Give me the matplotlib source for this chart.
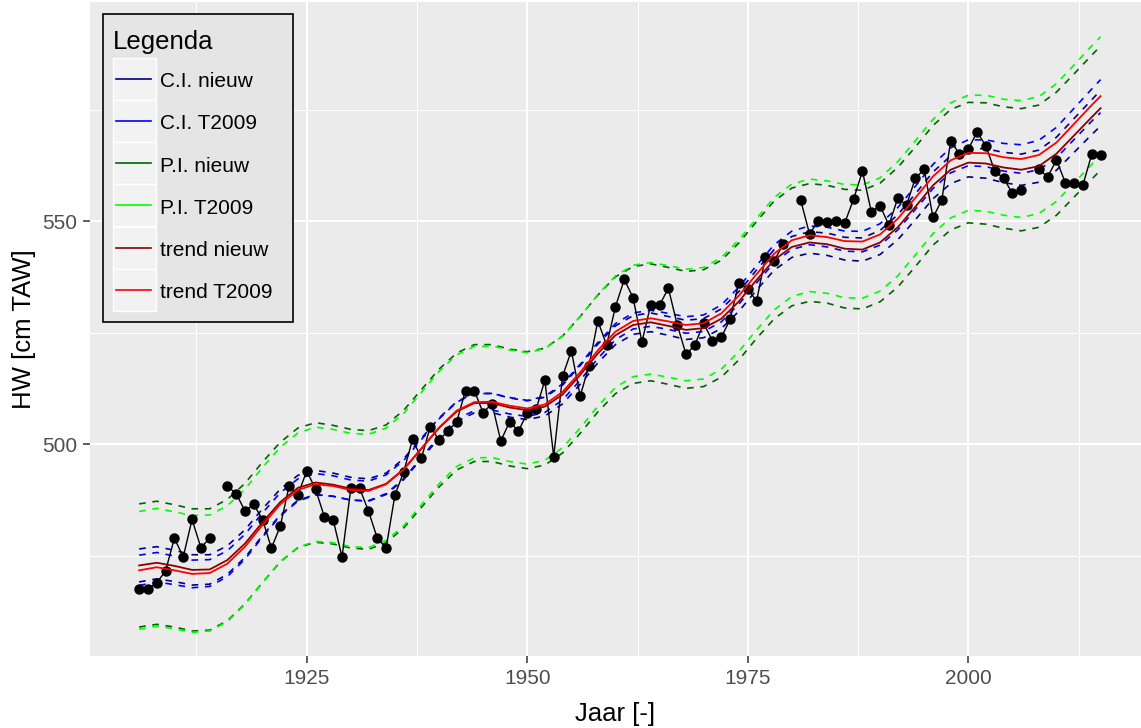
import numpy as np
import matplotlib.pyplot as plt
from matplotlib.patches import Rectangle
from matplotlib.lines import Line2D

plt.rcParams['font.family'] = ['Liberation Sans', 'DejaVu Sans']

# yearly mean high water [cm TAW], NaN where no value
obs_years = list(range(1906, 2016))
obs_hw = [
    467.6, 467.6, 468.9, 471.6, 478.9, 474.7, 483.1, 476.8, 478.9, np.nan,   # 1906-1915
    490.6, 488.9, 485.0, 486.5, 483.0, 476.7, 481.6, 490.6, 488.6, 494.0,    # 1916-1925
    489.9, 483.7, 483.0, 474.7, 490.1, 490.1, 485.0, 478.9, 476.7, 488.6,    # 1926-1935
    493.8, 501.1, 496.8, 503.9, 500.9, 502.9, 505.0, 512.0, 512.0, 507.0,    # 1936-1945
    509.1, 500.7, 505.0, 502.9, 507.0, 507.8, 514.3, 497.2, 515.2, 520.9,    # 1946-1955
    510.8, 517.5, 527.6, 522.2, 530.8, 536.9, 532.8, 522.9, 531.2, 531.2,    # 1956-1965
    534.9, 526.8, 520.1, 522.2, 527.1, 523.1, 523.9, 528.0, 536.2, 534.7,    # 1966-1975
    532.1, 541.9, 541.1, 544.8, np.nan, 554.7, 547.1, 550.1, 549.8, 550.1,   # 1976-1985
    549.6, 554.9, 561.2, 552.1, 553.4, 549.1, 555.1, 553.6, 559.6, 561.6,    # 1986-1995
    550.8, 554.7, 568.0, 565.0, 566.1, 570.0, 566.8, 561.2, 559.6, 556.2,    # 1996-2005
    557.0, np.nan, 561.6, 559.9, 563.7, 558.6, 558.6, 558.1, 565.0, 564.8,   # 2006-2015
]

# fitted trends and interval half-widths, read every second year
curve_years = list(range(1906, 2015, 2)) + [2015]
trend_t2009 = [
    471.7, 472.4, 471.7, 470.9, 471.1, 473.2, 477.0, 481.9, 486.5, 489.7,
    491.0, 490.6, 489.7, 489.5, 491.0, 494.3, 499.0, 503.7, 507.5, 509.4,
    509.5, 508.6, 508.0, 508.9, 511.7, 516.1, 521.0, 525.2, 527.6, 528.2,
    527.5, 526.7, 527.1, 529.3, 533.3, 538.1, 542.7, 545.7, 546.8, 546.4,
    545.5, 545.4, 547.0, 550.5, 555.2, 560.0, 563.6, 565.3, 565.2, 564.3,
    563.9, 564.8, 567.6, 571.8, 576.0, 578.0,
]
trend_nieuw = [
    472.8, 473.4, 472.7, 471.8, 471.9, 474.0, 477.7, 482.5, 487.0, 490.2,
    491.4, 490.9, 490.0, 489.7, 491.1, 494.4, 499.0, 503.6, 507.3, 509.2,
    509.2, 508.2, 507.6, 508.4, 511.1, 515.5, 520.3, 524.4, 526.7, 527.3,
    526.5, 525.6, 526.0, 528.1, 532.0, 536.8, 541.3, 544.2, 545.2, 544.8,
    543.8, 543.6, 545.2, 548.6, 553.2, 558.0, 561.5, 563.1, 562.9, 562.0,
    561.5, 562.3, 565.1, 569.2, 573.3, 575.3,
]
ci_t2009_hw = [
    3.4, 3.3, 3.2, 3.1, 3.0, 2.9, 2.8, 2.7, 2.6, 2.5,
    2.4, 2.3, 2.25, 2.2, 2.1, 2.05, 2.0, 1.95, 1.9, 1.9,
    1.85, 1.85, 1.8, 1.8, 1.8, 1.8, 1.8, 1.8, 1.8, 1.8,
    1.8, 1.85, 1.85, 1.9, 1.9, 1.95, 2.0, 2.05, 2.1, 2.2,
    2.25, 2.3, 2.4, 2.5, 2.6, 2.7, 2.8, 2.9, 3.0, 3.1,
    3.2, 3.3, 3.4, 3.5, 3.6, 3.7,
]
ci_nieuw_hw = [
    3.7, 3.6, 3.5, 3.4, 3.3, 3.2, 3.1, 3.0, 2.9, 2.8,
    2.7, 2.6, 2.55, 2.5, 2.4, 2.35, 2.3, 2.25, 2.2, 2.2,
    2.15, 2.15, 2.1, 2.1, 2.1, 2.1, 2.1, 2.1, 2.1, 2.1,
    2.1, 2.15, 2.15, 2.2, 2.2, 2.25, 2.3, 2.35, 2.4, 2.5,
    2.55, 2.6, 2.7, 2.8, 2.9, 3.0, 3.1, 3.2, 3.3, 3.4,
    3.5, 3.6, 3.7, 3.8, 3.9, 4.0,
]
pi_t2009_hw = [
    13.2, 13.2, 13.1, 13.1, 13.0, 13.0, 12.9, 12.9, 12.8, 12.8,
    12.8, 12.7, 12.7, 12.7, 12.6, 12.6, 12.6, 12.6, 12.5, 12.5,
    12.5, 12.5, 12.5, 12.5, 12.5, 12.5, 12.5, 12.5, 12.5, 12.5,
    12.5, 12.5, 12.5, 12.5, 12.5, 12.5, 12.6, 12.6, 12.6, 12.6,
    12.7, 12.7, 12.7, 12.8, 12.8, 12.8, 12.9, 12.9, 13.0, 13.0,
    13.1, 13.1, 13.2, 13.2, 13.3, 13.3,
]
pi_nieuw_hw = [
    13.8, 13.8, 13.7, 13.7, 13.6, 13.6, 13.5, 13.5, 13.4, 13.4,
    13.4, 13.3, 13.3, 13.3, 13.2, 13.2, 13.2, 13.2, 13.1, 13.1,
    13.1, 13.1, 13.1, 13.1, 13.1, 13.1, 13.1, 13.1, 13.1, 13.1,
    13.1, 13.1, 13.1, 13.1, 13.1, 13.1, 13.2, 13.2, 13.2, 13.2,
    13.3, 13.3, 13.3, 13.4, 13.4, 13.4, 13.5, 13.5, 13.6, 13.6,
    13.7, 13.7, 13.8, 13.8, 13.9, 13.9,
]

legend_labels = ['C.I. nieuw', 'C.I. T2009', 'P.I. nieuw', 'P.I. T2009',
                 'trend nieuw', 'trend T2009']
legend_colors = ['#00008B', '#0000FF', '#006400', '#00FF00', '#8B0000', '#FF0000']
col = dict(zip(legend_labels, legend_colors))

W, H = 1141, 728
fig = plt.figure(figsize=(W / 100, H / 100), dpi=100)
ax = fig.add_axes([90 / W, 72 / H, (W - 90) / W, 654 / H])
ax.set_facecolor('#EBEBEB')
for sp in ax.spines.values():
    sp.set_visible(False)

cy = np.array(curve_years)
tn, tt = np.array(trend_nieuw), np.array(trend_t2009)
dash = dict(lw=1.2, dashes=(4, 4))

# prediction intervals, confidence intervals, then data and trends
for trend, hw, lab in [(tn, pi_nieuw_hw, 'P.I. nieuw'), (tt, pi_t2009_hw, 'P.I. T2009'),
                       (tn, ci_nieuw_hw, 'C.I. nieuw'), (tt, ci_t2009_hw, 'C.I. T2009')]:
    hw = np.array(hw)
    ax.plot(cy, trend + hw, color=col[lab], **dash)
    ax.plot(cy, trend - hw, color=col[lab], **dash)

ax.plot(obs_years, obs_hw, color='black', lw=1.0, marker='o', ms=6.5, zorder=4)
ax.plot(cy, tn, color=col['trend nieuw'], lw=1.3, zorder=5)
ax.plot(cy, tt, color=col['trend T2009'], lw=1.3, zorder=5)

ax.set_xlim(1900.43, 2019.58)
ax.set_ylim(452.5, 599.1)
ax.set_xticks([1925, 1950, 1975, 2000])
ax.set_xticks([1912.5, 1937.5, 1962.5, 1987.5, 2012.5], minor=True)
ax.set_yticks([500, 550])
ax.set_yticks([475, 525, 575], minor=True)
ax.grid(which='major', color='white', lw=1.5)
ax.grid(which='minor', color='white', lw=0.75)
ax.set_axisbelow(True)
ax.tick_params(which='major', length=5.3, width=1.1, color='#333333',
               labelsize=15, labelcolor='#4D4D4D', pad=4)
ax.tick_params(which='minor', length=0)
ax.set_xlabel('Jaar [-]', fontsize=18.5, labelpad=10)
ax.set_ylabel('HW [cm TAW]', fontsize=18.5, labelpad=4)


# legend box, drawn in pixel positions on the figure
def fx(px):
    return px / W


def fy(py):
    return 1 - py / H


fig.add_artist(Rectangle((fx(102.5), fy(321.5)), 190 / W, 307.5 / H, transform=fig.transFigure,
                         facecolor='#E5E5E5', edgecolor='black', lw=1.2, zorder=10))
fig.text(fx(113), fy(48.5), 'Legenda', fontsize=18.5, va='baseline', ha='left', zorder=11)
for i, (lab, c) in enumerate(zip(legend_labels, legend_colors)):
    yc = 78.7 + i * 42.26
    fig.add_artist(Rectangle((fx(112.7), fy(yc + 21)), 43.3 / W, 42 / H, transform=fig.transFigure,
                             facecolor='#F2F2F2', edgecolor='white', lw=1, zorder=11))
    fig.add_artist(Line2D([fx(116), fx(150.7)], [fy(yc), fy(yc)], color=c, lw=1.2,
                          transform=fig.transFigure, zorder=12))
    fig.text(fx(160), fy(yc + 8.3), lab, fontsize=15, va='baseline', ha='left', zorder=12)

fig.savefig('out.png', dpi=100)
